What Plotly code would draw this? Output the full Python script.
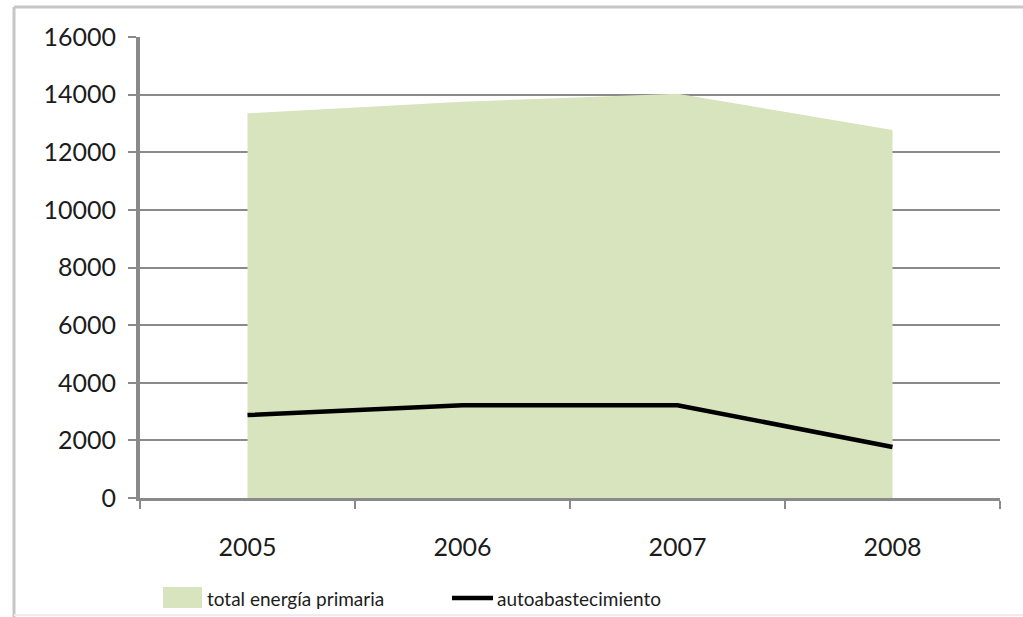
import plotly.graph_objects as go

# Annual series (ktep)
years = ["2005", "2006", "2007", "2008"]
total_primaria = [13350, 13750, 14030, 12770]
autoabastecimiento = [2880, 3220, 3220, 1770]

y_ticks = [0, 2000, 4000, 6000, 8000, 10000, 12000, 14000, 16000]

W, H = 1023, 617
ML, MR, MT, MB = 140, 23, 37, 119
PW, PH = W - ML - MR, H - MT - MB


def px(x):
    return (x - ML) / PW


def py(y):
    return (H - MB - y) / PH


FONT = "Lato, Liberation Sans"
TXT = "#1c1c1c"
GRID = "#8a8a8a"

fig = go.Figure()

fig.add_trace(go.Scatter(
    x=years, y=total_primaria,
    mode="none", fill="tozeroy", fillcolor="#D7E4BD",
    name="total energía primaria", hoverinfo="x+y",
))
fig.add_trace(go.Scatter(
    x=years, y=autoabastecimiento,
    mode="lines", line=dict(color="black", width=4.5),
    name="autoabastecimiento",
))

fig.update_layout(
    width=W, height=H,
    margin=dict(l=ML, r=MR, t=MT, b=MB),
    paper_bgcolor="white", plot_bgcolor="white",
    showlegend=False,
    font=dict(family=FONT, color=TXT),
    xaxis=dict(
        type="category", range=[-0.5, 3.5],
        tickson="boundaries", ticks="outside", ticklen=8,
        tickcolor=GRID, tickwidth=2,
        showgrid=False, zeroline=False,
        showline=True, linecolor=GRID, linewidth=3,
        tickfont=dict(family=FONT, size=25, color=TXT),
        ticklabelstandoff=25,
    ),
    yaxis=dict(
        range=[0, 16000], tickvals=y_ticks,
        ticktext=[str(v) for v in y_ticks],
        ticks="outside", ticklen=8, tickcolor=GRID, tickwidth=2,
        showgrid=True, gridcolor=GRID, gridwidth=2,
        zeroline=False,
        showline=True, linecolor=GRID, linewidth=4,
        tickfont=dict(family=FONT, size=25, color=TXT),
        ticklabelstandoff=7,
    ),
)

# Chart frame (top and left edges, faint bottom edge)
fig.add_shape(type="line", xref="paper", yref="paper",
              x0=px(14), x1=px(W + 5), y0=py(7), y1=py(7),
              line=dict(color="#c6c6c6", width=3))
fig.add_shape(type="line", xref="paper", yref="paper",
              x0=px(14), x1=px(14), y0=py(7), y1=py(H + 5),
              line=dict(color="#c6c6c6", width=3))
fig.add_shape(type="line", xref="paper", yref="paper",
              x0=px(14), x1=px(W + 5), y0=py(615), y1=py(615),
              line=dict(color="#ececec", width=2))

# Legend
LEG_FONT = dict(family=FONT, size=19, color=TXT)
fig.add_shape(type="rect", xref="paper", yref="paper",
              x0=px(163), x1=px(202), y0=py(587), y1=py(608),
              fillcolor="#D7E4BD", line=dict(width=0))
fig.add_annotation(xref="paper", yref="paper", x=px(205), y=py(598),
                   text="total energía primaria", showarrow=False,
                   xanchor="left", yanchor="middle", font=LEG_FONT)
fig.add_shape(type="line", xref="paper", yref="paper",
              x0=px(452), x1=px(493), y0=py(598), y1=py(598),
              line=dict(color="black", width=4.5))
fig.add_annotation(xref="paper", yref="paper", x=px(495), y=py(598),
                   text="autoabastecimiento", showarrow=False,
                   xanchor="left", yanchor="middle", font=LEG_FONT)

fig.write_html("out.html")
